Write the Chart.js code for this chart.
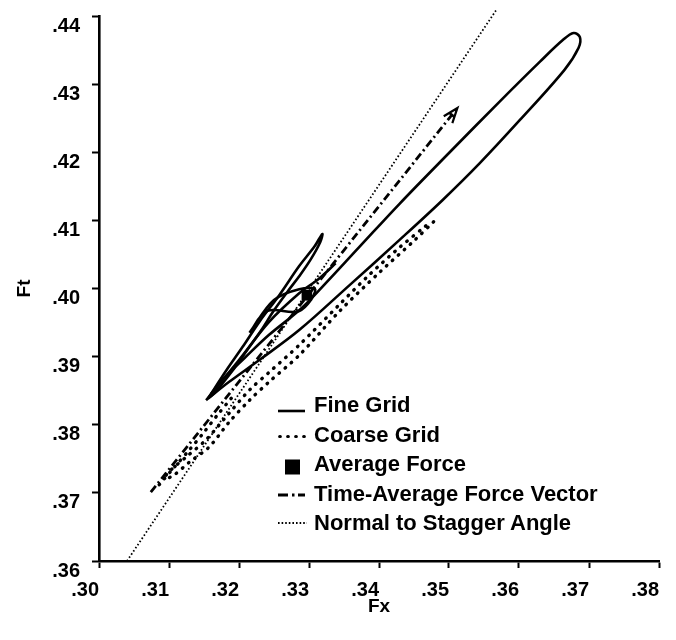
<!DOCTYPE html>
<html>
<head>
<meta charset="utf-8">
<title>Ft vs Fx</title>
<script src="https://cdn.jsdelivr.net/npm/chart.js@4.4.1/dist/chart.umd.min.js"></script>
<style>
  html, body { margin: 0; padding: 0; background: #fff; }
  #wrap { position: relative; width: 676px; height: 640px; }
  #legend {
    position: absolute;
    left: 278px;
    top: 390px;
    font: bold 22px "Liberation Sans", Arial, sans-serif;
    color: #000;
  }
  .row { display: flex; align-items: center; height: 29.5px; line-height: 29.5px; white-space: nowrap; }
  .row svg { width: 29px; height: 29.5px; margin-right: 7px; flex: none; }
</style>
</head>
<body>
<div id="wrap">
  <canvas id="chart" width="676" height="640"></canvas>
  <div id="legend"></div>
</div>
<script>
const xTickValues = [0.30, 0.31, 0.32, 0.33, 0.34, 0.35, 0.36, 0.37, 0.38];
const xTickLabels = [".30", ".31", ".32", ".33", ".34", ".35", ".36", ".37", ".38"];
const yTickValues = [0.36, 0.37, 0.38, 0.39, 0.40, 0.41, 0.42, 0.43, 0.44];
const yTickLabels = [".36", ".37", ".38", ".39", ".40", ".41", ".42", ".43", ".44"];

// fine grid: big orbit, narrow leaf with the cusp, inner strand and the small diamond
const fineOuterFx = [0.3153, 0.3179, 0.3208, 0.3243, 0.3286, 0.3315, 0.3372, 0.3429, 0.3501, 0.3572, 0.3630, 0.3663, 0.3678, 0.3687, 0.3685, 0.3665, 0.3601, 0.3544, 0.3491, 0.3429, 0.3358, 0.3286, 0.3229, 0.3186, 0.3160, 0.3153];
const fineOuterFt = [0.3836, 0.3869, 0.3898, 0.3932, 0.3968, 0.3998, 0.4061, 0.4124, 0.4200, 0.4274, 0.4333, 0.4365, 0.4375, 0.4369, 0.4353, 0.4321, 0.4247, 0.4184, 0.4130, 0.4071, 0.4005, 0.3939, 0.3895, 0.3863, 0.3842, 0.3836];
const fineLeafFx = [0.3156, 0.3182, 0.3205, 0.3229, 0.3258, 0.3286, 0.3308, 0.3319, 0.3316, 0.3302, 0.3286, 0.3269, 0.3250, 0.3232, 0.3212, 0.3189, 0.3166, 0.3156];
const fineLeafFt = [0.3839, 0.3880, 0.3914, 0.3951, 0.3991, 0.4033, 0.4062, 0.4080, 0.4068, 0.4042, 0.4018, 0.3995, 0.3968, 0.3939, 0.3910, 0.3877, 0.3848, 0.3839];
const fineStrandFx = [0.3160, 0.3200, 0.3243, 0.3286, 0.3315, 0.3338];
const fineStrandFt = [0.3845, 0.3895, 0.3951, 0.3993, 0.4015, 0.4037];
const fineDiamondFx = [0.3215, 0.3240, 0.3286, 0.3309, 0.3286, 0.3250, 0.3215];
const fineDiamondFt = [0.3935, 0.3967, 0.3967, 0.3998, 0.3999, 0.3983, 0.3935];

// coarse grid strands
const coarseAFx = [0.3467, 0.3429, 0.3386, 0.3343, 0.3286, 0.3243, 0.3215, 0.3186, 0.3153, 0.3125, 0.3103, 0.3090];
const coarseAFt = [0.4092, 0.4060, 0.4020, 0.3976, 0.3917, 0.3877, 0.3851, 0.3817, 0.3778, 0.3753, 0.3734, 0.3719];
const coarseBFx = [0.3478, 0.3451, 0.3401, 0.3343, 0.3286, 0.3243, 0.3215, 0.3186, 0.3157, 0.3129, 0.3107, 0.3093];
const coarseBFt = [0.4098, 0.4071, 0.4024, 0.3966, 0.3902, 0.3863, 0.3836, 0.3804, 0.3767, 0.3745, 0.3726, 0.3719];
const coarseCFx = [0.3086, 0.3107, 0.3129, 0.3150, 0.3169, 0.3189];
const coarseCFt = [0.3712, 0.3737, 0.3763, 0.3789, 0.3814, 0.3839];

const avgForceFx = [0.3297];
const avgForceFt = [0.3990];
const timeAvgFx = [0.3074, 0.3512];
const timeAvgFt = [0.3701, 0.4265];
const staggerFx = [0.3040, 0.3567];
const staggerFt = [0.3600, 0.4408];

const legendLabels = ["Fine Grid", "Coarse Grid", "Average Force", "Time-Average Force Vector", "Normal to Stagger Angle"];

const fontFamily = '"Liberation Sans", Arial, Helvetica, sans-serif';
const tickFont = { family: fontFamily, size: 20, weight: "bold" };
const titleFont = { family: fontFamily, size: 19, weight: "bold" };

function points(fx, ft) {
  return fx.map((x, i) => ({ x, y: ft[i] }));
}

function fineLine(fx, ft) {
  return {
    data: points(fx, ft),
    showLine: true,
    borderColor: "#000",
    borderWidth: 2.6,
    pointRadius: 0,
    tension: 0.35,
  };
}

function coarseLine(fx, ft) {
  return {
    data: points(fx, ft),
    showLine: true,
    borderColor: "#000",
    borderWidth: 3.4,
    borderDash: [0.6, 7.4],
    borderCapStyle: "round",
    pointRadius: 0,
    tension: 0.3,
  };
}

const datasets = [
  { label: "Normal to Stagger Angle", data: points(staggerFx, staggerFt), showLine: true, borderColor: "#000", borderWidth: 1.8, borderDash: [1.6, 2.2], pointRadius: 0, clip: false },
  { label: "Time-Average Force Vector", data: points(timeAvgFx, timeAvgFt), showLine: true, borderColor: "#000", borderWidth: 2.8, borderDash: [8, 3.5, 2, 3.5], pointRadius: 0 },
  { label: "Fine Grid", ...fineLine(fineOuterFx, fineOuterFt) },
  { label: "fine leaf", ...fineLine(fineLeafFx, fineLeafFt) },
  { label: "fine strand", ...fineLine(fineStrandFx, fineStrandFt) },
  { label: "fine diamond", ...fineLine(fineDiamondFx, fineDiamondFt) },
  { label: "Coarse Grid", ...coarseLine(coarseAFx, coarseAFt) },
  { label: "coarse b", ...coarseLine(coarseBFx, coarseBFt) },
  { label: "coarse c", ...coarseLine(coarseCFx, coarseCFt) },
  { label: "Average Force", data: points(avgForceFx, avgForceFt), showLine: false, pointStyle: "rect", pointRadius: 7.5, backgroundColor: "#000", borderColor: "#000", borderWidth: 0 },
];

const timeAvgIndex = datasets.findIndex((d) => d.label === "Time-Average Force Vector");

// open arrow head at the end of the time-average vector
const arrowHead = {
  id: "arrowHead",
  afterDatasetsDraw(chart) {
    const pts = chart.getDatasetMeta(timeAvgIndex).data;
    const tip = pts[pts.length - 1];
    const prev = pts[pts.length - 2];
    const len = Math.hypot(tip.x - prev.x, tip.y - prev.y);
    const ux = (tip.x - prev.x) / len;
    const uy = (tip.y - prev.y) / len;
    const nx = -uy;
    const ny = ux;
    const back = 15;
    const half = 5.5;
    const ctx = chart.ctx;
    ctx.save();
    ctx.setLineDash([]);
    ctx.strokeStyle = "#000";
    ctx.lineWidth = 2.2;
    ctx.lineJoin = "miter";
    ctx.beginPath();
    ctx.moveTo(tip.x - ux * back + nx * half, tip.y - uy * back + ny * half);
    ctx.lineTo(tip.x, tip.y);
    ctx.lineTo(tip.x - ux * back - nx * half, tip.y - uy * back - ny * half);
    ctx.moveTo(tip.x - ux * back * 0.6 + nx * half * 0.6, tip.y - uy * back * 0.6 + ny * half * 0.6);
    ctx.lineTo(tip.x - ux * back * 0.6 - nx * half * 0.6, tip.y - uy * back * 0.6 - ny * half * 0.6);
    ctx.stroke();
    ctx.restore();
  },
};

new Chart(document.getElementById("chart"), {
  type: "scatter",
  data: { datasets },
  options: {
    responsive: false,
    animation: false,
    layout: { padding: { top: 16, right: 17, bottom: 0, left: 0 } },
    plugins: { legend: { display: false }, tooltip: { enabled: false } },
    scales: {
      x: {
        type: "linear",
        min: 0.30,
        max: 0.38,
        afterBuildTicks: (scale) => { scale.ticks = xTickValues.map((value) => ({ value })); },
        afterFit: (scale) => { scale.height = 79; },
        ticks: { callback: (v, i) => xTickLabels[i], align: "end", color: "#000", font: tickFont, padding: 10, maxRotation: 0, autoSkip: false },
        grid: { drawOnChartArea: false, tickLength: 7, tickWidth: 2, tickColor: "#000" },
        border: { color: "#000", width: 2.6 },
        title: { display: true, text: "Fx", color: "#000", font: titleFont, padding: { top: 0, bottom: 22 } },
      },
      y: {
        type: "linear",
        min: 0.36,
        max: 0.44,
        afterBuildTicks: (scale) => { scale.ticks = yTickValues.map((value) => ({ value })); },
        afterFit: (scale) => { scale.width = 99; },
        ticks: { callback: (v, i) => yTickLabels[i], align: "start", color: "#000", font: tickFont, padding: 12, autoSkip: false },
        grid: { drawOnChartArea: false, tickLength: 7, tickWidth: 2, tickColor: "#000" },
        border: { color: "#000", width: 2.6 },
        title: { display: true, text: "Ft", color: "#000", font: titleFont, padding: { top: 13, bottom: 0 } },
      },
    },
  },
  plugins: [arrowHead],
});

const swatches = [
  '<line x1="0" y1="21" x2="27" y2="21" stroke="#000" stroke-width="2.6"/>',
  '<line x1="1.7" y1="16.5" x2="28" y2="16.5" stroke="#000" stroke-width="3.2" stroke-dasharray="0.6 7.4" stroke-linecap="round"/>',
  '<rect x="7" y="10.5" width="15" height="15" fill="#000"/>',
  '<path d="M0 16H10M14 16H16.5M20 16H27" stroke="#000" stroke-width="3"/>',
  '<line x1="0" y1="15" x2="29" y2="15" stroke="#000" stroke-width="1.8" stroke-dasharray="1.6 2"/>',
];

document.getElementById("legend").innerHTML = legendLabels
  .map((label, i) => `<div class="row"><svg viewBox="0 0 29 29.5">${swatches[i]}</svg><span>${label}</span></div>`)
  .join("");
</script>
</body>
</html>
